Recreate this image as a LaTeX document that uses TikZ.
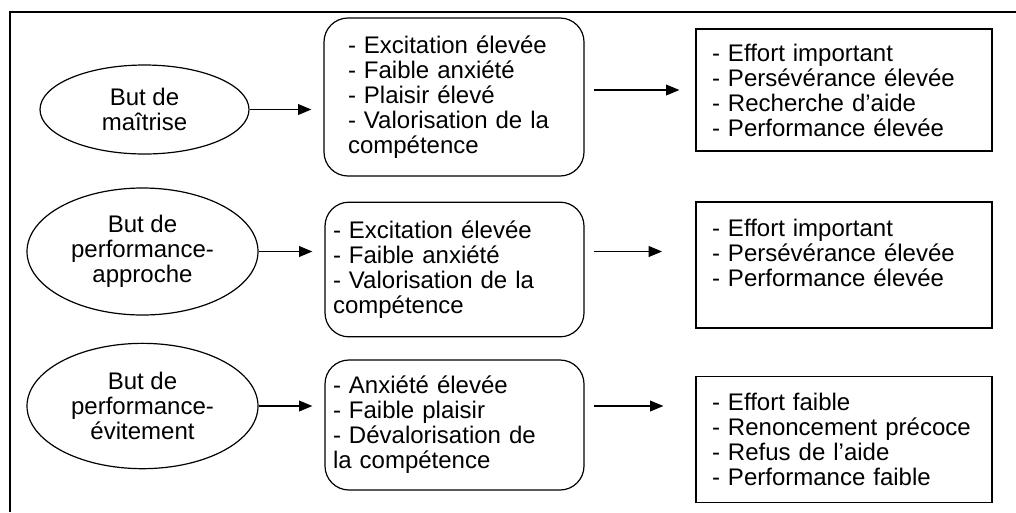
\documentclass[tikz,border=0pt]{standalone}
\usepackage{fontspec}
\setmainfont{Liberation Sans}
\usetikzlibrary{shapes.geometric,arrows.meta}
\tikzset{
  but/.style={draw,ellipse,line width=0.9pt,align=center,inner sep=0pt},
  affect/.style={draw,rounded corners=18pt,line width=0.9pt,align=left},
  resultat/.style={draw,rectangle,line width=0.9pt,align=left,text width=198pt,inner xsep=12pt},
  fleche/.style={line width=1.2pt,-{Triangle[length=10pt,width=8pt]}}
}
\begin{document}
\begin{tikzpicture}[x=0.75pt,y=-0.75pt,font=\fontsize{18}{18.75}\selectfont]
    \useasboundingbox (0,0) rectangle (1016,512);
    \draw[line width=1.9pt] (1016,12) -- (10,12) -- (10,512);
    % ligne 1
    \node[but,minimum width=156.75pt,minimum height=66.75pt] (but1) at (144.5,109.5) {But de\\maîtrise};
    \node[affect,text width=159pt,inner xsep=18pt,minimum height=118.5pt] (aff1) at (454,97) {- Excitation élevée\\- Faible anxiété\\- Plaisir élevé\\- Valorisation de la\\compétence};
    \node[resultat,minimum height=91.5pt] (res1) at (844,90) {- Effort important\\- Persévérance élevée\\- Recherche d’aide\\- Performance élevée};
    \draw[fleche,shorten >=9pt] (but1.east) -- (but1.east -| aff1.west);
    \draw[fleche,shorten <=7pt,shorten >=12pt] (aff1.east |- res1.west) -- (res1.west);
    % ligne 2
    \node[but,minimum width=173.25pt,minimum height=95.25pt] (but2) at (142.5,251.5) {But de\\performance-\\approche};
    \node[affect,text width=182.25pt,inner xsep=6pt,minimum height=101pt] (aff2) at (454.5,269.5) {- Excitation élevée\\- Faible anxiété\\- Valorisation de la\\compétence};
    \node[resultat,minimum height=94.5pt] (res2) at (844,265) {- Effort important\\- Persévérance élevée\\- Performance élevée\\ \mbox{}};
    \draw[fleche,shorten >=9pt] (but2.east) -- (but2.east -| aff2.west);
    \draw[fleche,shorten <=7pt,shorten >=25pt] (aff2.east |- but2.east) -- (res2.west |- but2.east);
    % ligne 3
    \node[but,minimum width=173.25pt,minimum height=94pt] (but3) at (142.5,406) {But de\\performance-\\évitement};
    \node[affect,text width=182.25pt,inner xsep=6pt,minimum height=97.5pt] (aff3) at (454.5,425) {- Anxiété élevée\\- Faible plaisir\\- Dévalorisation de\\la compétence};
    \node[resultat,minimum height=94pt] (res3) at (844,439.5) {- Effort faible\\- Renoncement précoce\\- Refus de l’aide\\- Performance faible};
    \draw[fleche,shorten >=9pt] (but3.east) -- (but3.east -| aff3.west);
    \draw[fleche,shorten <=7pt,shorten >=24pt] (aff3.east |- but3.east) -- (res3.west |- but3.east);
\end{tikzpicture}
\end{document}
